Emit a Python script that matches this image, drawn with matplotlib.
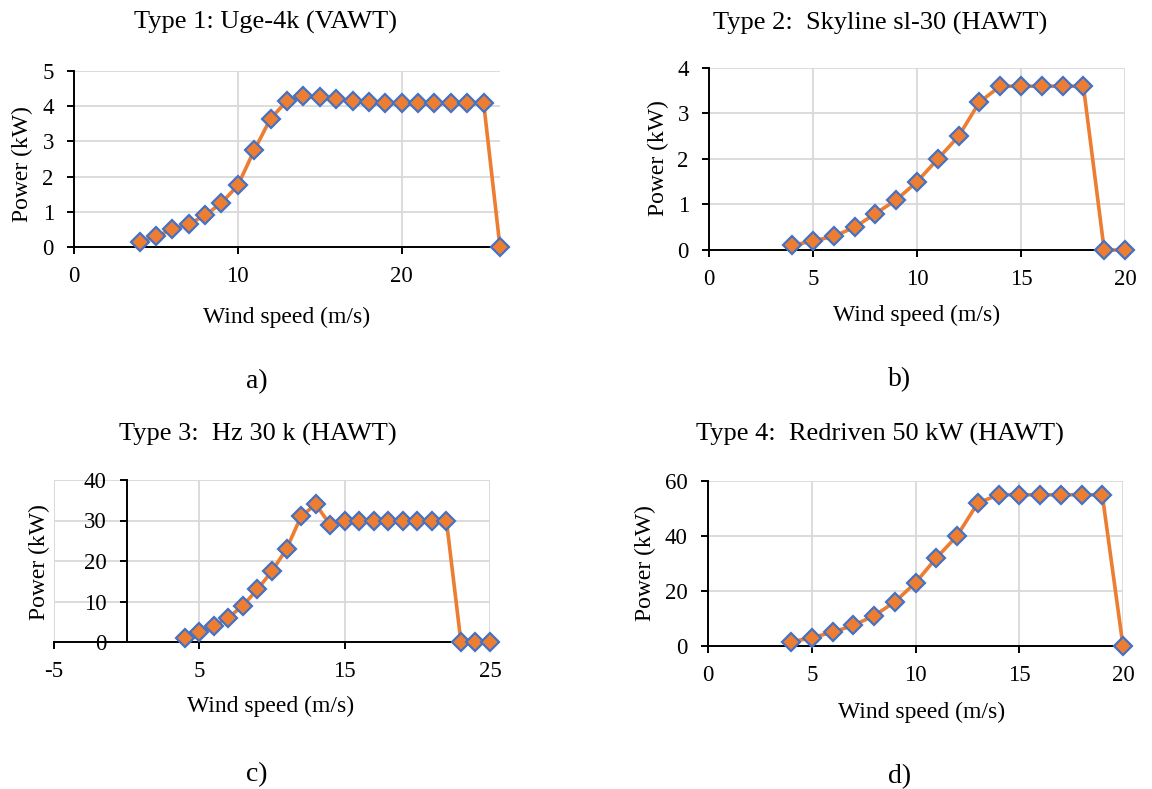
import matplotlib.pyplot as plt

plt.rcParams['font.family'] = ['Liberation Serif', 'DejaVu Serif']
plt.rcParams['axes.unicode_minus'] = False

# a) Type 1
speed1 = list(range(4, 27))
power1 = [0.15, 0.3, 0.5, 0.65, 0.9, 1.25, 1.75, 2.75, 3.65, 4.15, 4.3, 4.25,
          4.2, 4.15, 4.13, 4.1, 4.1, 4.1, 4.1, 4.1, 4.1, 4.1, 0]
# b) Type 2
speed2 = list(range(4, 21))
power2 = [0.1, 0.2, 0.3, 0.5, 0.8, 1.1, 1.5, 2.0, 2.5, 3.25, 3.6, 3.6, 3.6,
          3.6, 3.6, 0, 0]
# c) Type 3
speed3 = list(range(4, 26))
power3 = [1, 2.5, 4, 6, 9, 13, 17.5, 23, 31, 34, 29, 30, 30, 30, 30, 30, 30,
          30, 30, 0, 0, 0]
# d) Type 4
speed4 = list(range(4, 21))
power4 = [1.5, 3, 5, 7.5, 11, 16, 23, 32, 40, 52, 55, 55, 55, 55, 55, 55, 0]

W, H = 1152, 789
fig = plt.figure(figsize=(W / 100, H / 100), dpi=100)

ORANGE = '#ED7D31'
BLUE = '#4472C4'
GRID = '#D9D9D9'
TICK_FS = 16.5
LABEL_FS = 17
TITLE_FS = 19
PANEL_FS = 20


def box(x0, x1, y0, y1):
    # pixel box -> figure fraction
    return [x0 / W, 1 - y1 / H, (x1 - x0) / W, (y1 - y0) / H]


def ftext(x, y, s, fs, **kw):
    fig.text(x / W, 1 - y / H, s, ha='center', va='center', fontsize=fs, **kw)


def panel(rect, x, y, xlim, xticks, ylim, yticks, yaxis_at=None):
    ax = fig.add_axes(rect)
    ax.plot(x, y, color=ORANGE, lw=2.6, marker='D', ms=9,
            mfc=ORANGE, mec=BLUE, mew=1.6, clip_on=False, zorder=5)
    ax.set_xlim(*xlim)
    ax.set_ylim(*ylim)
    ax.set_xticks(xticks)
    ax.set_yticks(yticks)
    ax.grid(True, color=GRID, lw=1.3)
    ax.set_axisbelow(True)
    for s in ['top', 'right']:
        ax.spines[s].set_visible(False)
    for s in ['left', 'bottom']:
        ax.spines[s].set_color('black')
        ax.spines[s].set_linewidth(1.4)
    if yaxis_at is not None:
        ax.spines['left'].set_position(('data', yaxis_at))
        ax.axvline(xlim[0], color=GRID, lw=1.3, zorder=0)
    ax.tick_params(direction='out', length=5, width=1.4, labelsize=TICK_FS,
                   colors='black')
    ax.tick_params(axis='x', pad=9)
    ax.tick_params(axis='y', pad=9.5)
    ax.set_facecolor('none')
    return ax


panel(box(74, 500, 71, 247), speed1, power1, (0, 26), [0, 10, 20],
      (0, 5), range(0, 6))
panel(box(709, 1125, 68, 250), speed2, power2, (0, 20), range(0, 21, 5),
      (0, 4), range(0, 5))
panel(box(54, 490, 480, 642), speed3, power3, (-5, 25), [-5, 5, 15, 25],
      (0, 40), range(0, 41, 10), yaxis_at=0)
panel(box(708, 1123, 481, 646), speed4, power4, (0, 20), range(0, 21, 5),
      (0, 60), range(0, 61, 20))

ftext(265, 22, 'Type 1: Uge-4k (VAWT)', TITLE_FS)
ftext(880, 23, 'Type 2:  Skyline sl-30 (HAWT)', TITLE_FS)
ftext(258, 434, 'Type 3:  Hz 30 k (HAWT)', TITLE_FS)
ftext(880, 434, 'Type 4:  Redriven 50 kW (HAWT)', TITLE_FS)

ftext(287, 317, 'Wind speed (m/s)', LABEL_FS)
ftext(917, 315, 'Wind speed (m/s)', LABEL_FS)
ftext(271, 706, 'Wind speed (m/s)', LABEL_FS)
ftext(922, 712, 'Wind speed (m/s)', LABEL_FS)

ftext(22, 164, 'Power (kW)', LABEL_FS, rotation=90)
ftext(658, 158, 'Power (kW)', LABEL_FS, rotation=90)
ftext(39, 562, 'Power (kW)', LABEL_FS, rotation=90)
ftext(645, 563, 'Power (kW)', LABEL_FS, rotation=90)

ftext(257, 382, 'a)', PANEL_FS)
ftext(900, 380, 'b)', PANEL_FS)
ftext(257, 775, 'c)', PANEL_FS)
ftext(900, 777, 'd)', PANEL_FS)

fig.savefig('out.png', dpi=100, facecolor='white')
